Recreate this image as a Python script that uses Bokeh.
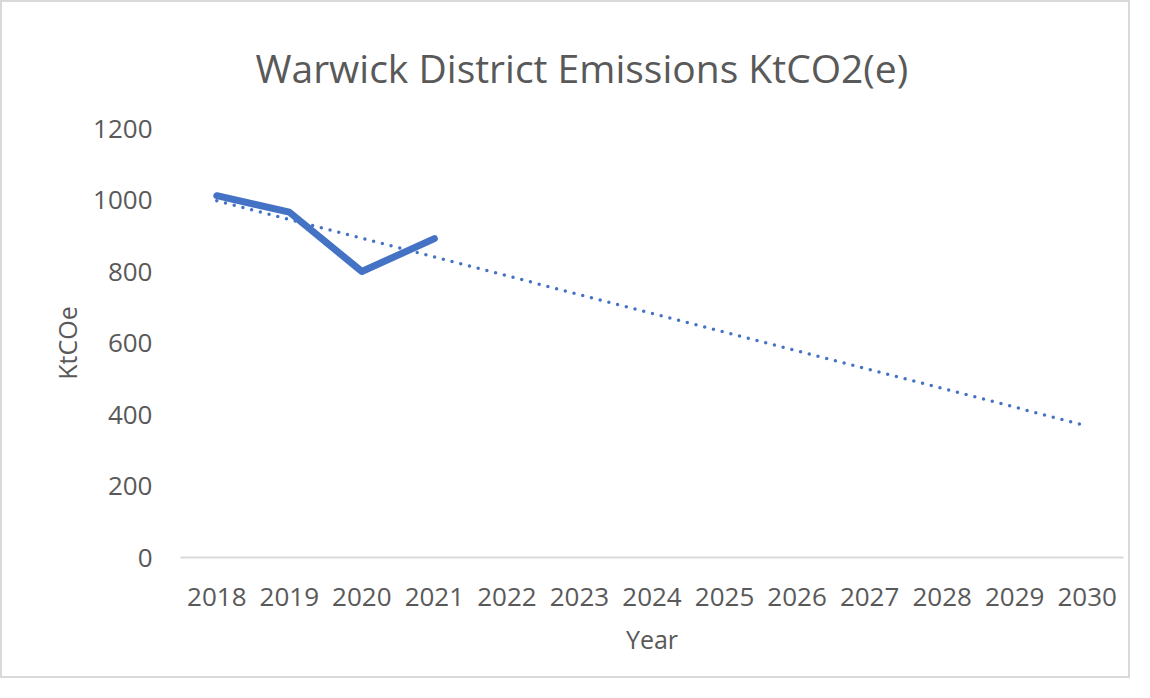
from bokeh.plotting import figure
from bokeh.models import FixedTicker, Title
from bokeh.embed import file_html
from bokeh.resources import INLINE

years = ["2018", "2019", "2020", "2021", "2022", "2023", "2024", "2025",
         "2026", "2027", "2028", "2029", "2030"]
actual_years = ["2018", "2019", "2020", "2021"]
emissions = [1012, 966, 800, 892]
trend_years = ["2018", "2030"]
trend_values = [998, 368]
y_ticks = [0, 200, 400, 600, 800, 1000, 1200]

FONT = "Open Sans"
GREY = "#595959"
BLUE = "#4472C4"

p = figure(width=1130, height=678, x_range=years, y_range=(0, 1200),
           output_backend="svg", toolbar_location=None,
           min_border_left=178, min_border_right=9,
           min_border_top=126, min_border_bottom=123)
p.title.text = ""
p.add_layout(Title(text="Warwick District Emissions KtCO2(e)", align="left",
                   text_font=FONT, text_font_size="39px", text_color=GREY,
                   text_font_style="normal", offset=75, standoff=70), "above")

p.line(trend_years, trend_values, line_color=BLUE, line_width=3.5,
       line_dash="0 9", line_cap="round")
p.line(actual_years, emissions, line_color=BLUE, line_width=7,
       line_cap="round", line_join="round")

p.outline_line_color = None
p.xgrid.grid_line_color = None
p.ygrid.grid_line_color = None
p.background_fill_color = "white"
p.border_fill_color = "white"

p.yaxis.ticker = FixedTicker(ticks=y_ticks)
p.yaxis.axis_line_color = None
p.yaxis.major_tick_line_color = None
p.yaxis.minor_tick_line_color = None
p.yaxis.major_label_standoff = 22
p.yaxis.axis_label = "KtCOe"
p.yaxis.axis_label_standoff = 6

p.xaxis.axis_line_color = "#d9d9d9"
p.xaxis.axis_line_width = 2
p.xaxis.major_tick_line_color = None
p.xaxis.minor_tick_line_color = None
p.xaxis.major_label_standoff = 24
p.xaxis.axis_label = "Year"
p.xaxis.axis_label_standoff = 13

for ax in (p.xaxis[0], p.yaxis[0]):
    ax.major_label_text_font = FONT
    ax.major_label_text_font_size = "26px"
    ax.major_label_text_color = GREY
    ax.axis_label_text_font = FONT
    ax.axis_label_text_font_size = "25px"
    ax.axis_label_text_color = GREY
    ax.axis_label_text_font_style = "normal"

p.styles = {"border": "2px solid #d9d9d9"}

open("out.html", "w").write(file_html(p, INLINE))
